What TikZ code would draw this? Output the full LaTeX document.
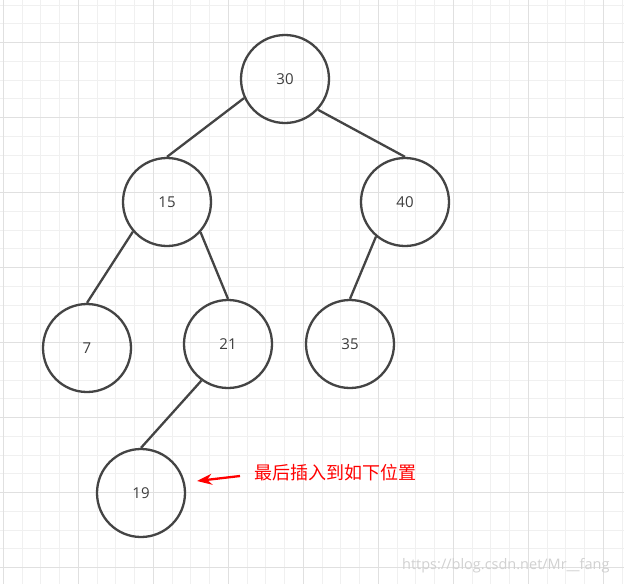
\documentclass[tikz,border=0pt]{standalone}
\usepackage{fontspec}
\setmainfont{Open Sans}
\newfontfamily\cjk{Noto Sans CJK SC}
\usepackage{tikz}
\usetikzlibrary{arrows.meta}
\usepackage{xcolor}
\definecolor{inkgray}{HTML}{444444}
\definecolor{minorline}{HTML}{F0F0F0}
\definecolor{majorline}{HTML}{E0E0E0}

\tikzset{
  keynode/.style={circle, draw=inkgray, line width=2.3pt, minimum size=88pt,
    inner sep=0pt, text=inkgray!90!black, font=\fontsize{15}{18}\selectfont},
  treeedge/.style={draw=inkgray, line width=2.3pt},
}

\begin{document}
\begin{tikzpicture}[x=1pt, y=-1pt]
    \useasboundingbox[fill=white] (0,0) rectangle (624,584);
    % Background grid
    \foreach \k in {0,...,33} {
        \draw[minorline, line width=1pt] ({3.3+18.75*\k}, 0) -- ({3.3+18.75*\k}, 584);
    }
    \foreach \k in {0,...,30} {
        \draw[minorline, line width=1pt] (0, {5+18.75*\k}) -- (624, {5+18.75*\k});
    }
    \foreach \k in {0,...,8} {
        \draw[majorline, line width=1pt] ({3.3+75*\k}, 0) -- ({3.3+75*\k}, 584);
    }
    \foreach \k in {0,...,7} {
        \draw[majorline, line width=1pt] (0, {42.5+75*\k}) -- (624, {42.5+75*\k});
    }

    % Tree
    \node[keynode] (n30) at (285, 79) {30};
    \node[keynode] (n15) at (167, 202) {15};
    \node[keynode] (n40) at (405, 202) {40};
    \node[keynode] (n7)  at (87, 348) {7};
    \node[keynode] (n21) at (228, 344) {21};
    \node[keynode] (n35) at (350, 344) {35};
    \node[keynode] (n19) at (141, 493) {19};

    \draw[treeedge] (n30.205) -- (n15.north);
    \draw[treeedge] (n30.-43) -- (n40.north);
    \draw[treeedge] (n15.221) -- (n7.north);
    \draw[treeedge] (n15.-42) -- (n21.north);
    \draw[treeedge] (n40.230) -- (n35.north);
    \draw[treeedge] (n21.234) -- (n19.north);

    % Note on the new key
    \coordinate (tail) at (240, 476);
    \coordinate (tip) at (197, 481);
    \draw[red, line width=2.3pt, -{Stealth[length=15pt, width=11pt]}] (tail) -- (tip);
    \node[red, anchor=west, inner sep=0pt, font=\cjk\fontsize{18}{21}\selectfont] (note) at (254, 473) {最后插入到如下位置};

    % Watermark
    \node[black!18, anchor=west, inner sep=0pt, font=\fontsize{14.5}{17}\selectfont] (mark) at (402, 566) {https://blog.csdn.net/Mr\_\_fang};
\end{tikzpicture}
\end{document}
